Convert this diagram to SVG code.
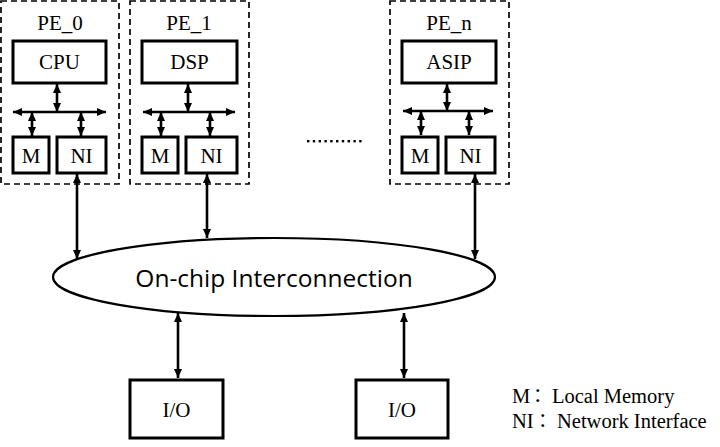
<svg xmlns="http://www.w3.org/2000/svg" width="720" height="447" viewBox="0 0 720 447">
<style>
.pe{fill:none;stroke:#000;stroke-width:1.7;stroke-dasharray:6,4}
.box{fill:#fff;stroke:#000;stroke-width:3}
.ln{stroke:#000;stroke-width:2.6;fill:none}
.t{font-family:"Liberation Serif",serif;font-size:21px;fill:#000;text-anchor:middle}
.lg{font-family:"Liberation Serif",serif;font-size:20.5px;fill:#000}
.cj{font-family:"Noto Sans CJK SC",sans-serif;font-size:19px;fill:#000}
.st{font-family:"Open Sans",sans-serif;font-size:24.5px;fill:#000;text-anchor:middle}
</style>
<defs>
<marker id="ah" markerUnits="userSpaceOnUse" markerWidth="12" markerHeight="12" viewBox="0 0 12 12" refX="10" refY="6" orient="auto-start-reverse">
<path d="M1,2 L10,6 L1,10 Z" fill="#000"/>
</marker>
</defs>
<rect width="720" height="447" fill="#fff"/>
<g id="pe0">
<rect class="pe" x="1" y="1" width="118" height="183"/>
<text class="t" x="60" y="30">PE_0</text>
<rect class="box" x="13" y="41" width="93" height="42"/>
<text class="t" x="59.5" y="69">CPU</text>
<rect class="box" x="13" y="137" width="36" height="36"/>
<text class="t" x="31" y="163">M</text>
<rect class="box" x="57" y="137" width="49" height="36"/>
<text class="t" x="81.5" y="163">NI</text>
</g>
<g id="pe1">
<rect class="pe" x="130" y="1" width="119" height="183"/>
<text class="t" x="189" y="30">PE_1</text>
<rect class="box" x="142" y="41" width="95" height="42"/>
<text class="t" x="189.5" y="69">DSP</text>
<rect class="box" x="142" y="137" width="36" height="36"/>
<text class="t" x="160" y="163">M</text>
<rect class="box" x="186" y="137" width="51" height="36"/>
<text class="t" x="211.5" y="163">NI</text>
</g>
<g id="pen">
<rect class="pe" x="390" y="1" width="119" height="183"/>
<text class="t" x="449" y="30">PE_n</text>
<rect class="box" x="402" y="41" width="94" height="42"/>
<text class="t" x="449" y="69">ASIP</text>
<rect class="box" x="402" y="137" width="36" height="36"/>
<text class="t" x="420" y="163">M</text>
<rect class="box" x="446" y="137" width="49" height="36"/>
<text class="t" x="470.5" y="163">NI</text>
</g>
<g id="dots" fill="#000">
<rect x="307" y="140" width="2.4" height="2.4"/>
<rect x="312.8" y="140" width="2.4" height="2.4"/>
<rect x="318.6" y="140" width="2.4" height="2.4"/>
<rect x="324.4" y="140" width="2.4" height="2.4"/>
<rect x="330.2" y="140" width="2.4" height="2.4"/>
<rect x="336" y="140" width="2.4" height="2.4"/>
<rect x="341.8" y="140" width="2.4" height="2.4"/>
<rect x="347.6" y="140" width="2.4" height="2.4"/>
<rect x="353.4" y="140" width="2.4" height="2.4"/>
<rect x="359.2" y="140" width="2.4" height="2.4"/>
</g>
<g id="interconnect">
<ellipse cx="274" cy="277" rx="221" ry="39" fill="#fff" stroke="#000" stroke-width="2.2"/>
<text class="st" x="274" y="287">On-chip Interconnection</text>
</g>
<g id="io1">
<rect class="box" x="130" y="380" width="93" height="58"/>
<text class="t" x="176.5" y="417">I/O</text>
</g>
<g id="io2">
<rect class="box" x="356" y="380" width="92" height="58"/>
<text class="t" x="402" y="417">I/O</text>
</g>
<g id="legend">
<text class="lg" x="512" y="403">M</text>
<text class="cj" x="533" y="402">：</text>
<text class="lg" x="552" y="403">Local Memory</text>
<text class="lg" x="512" y="428">NI</text>
<text class="cj" x="538" y="427">：</text>
<text class="lg" x="557" y="428">Network Interface</text>
</g>
<g id="connectors" class="ln" marker-start="url(#ah)" marker-end="url(#ah)">
<line x1="13" y1="112" x2="106" y2="112"/>
<line x1="57" y1="84" x2="57" y2="112"/>
<line x1="32" y1="112" x2="32" y2="136"/>
<line x1="81" y1="112" x2="81" y2="136"/>
<line x1="143" y1="112" x2="235" y2="112"/>
<line x1="188" y1="84" x2="188" y2="112"/>
<line x1="161" y1="112" x2="161" y2="136"/>
<line x1="210" y1="112" x2="210" y2="136"/>
<line x1="403" y1="111" x2="493" y2="111"/>
<line x1="447" y1="84" x2="447" y2="111"/>
<line x1="421" y1="111" x2="421" y2="135"/>
<line x1="469" y1="111" x2="469" y2="135"/>
<line x1="77" y1="174" x2="77" y2="259"/>
<line x1="207" y1="174" x2="207" y2="238"/>
<line x1="475" y1="174" x2="475" y2="259"/>
<line x1="178" y1="313" x2="178" y2="378"/>
<line x1="404" y1="313" x2="404" y2="378"/>
</g>
</svg>
